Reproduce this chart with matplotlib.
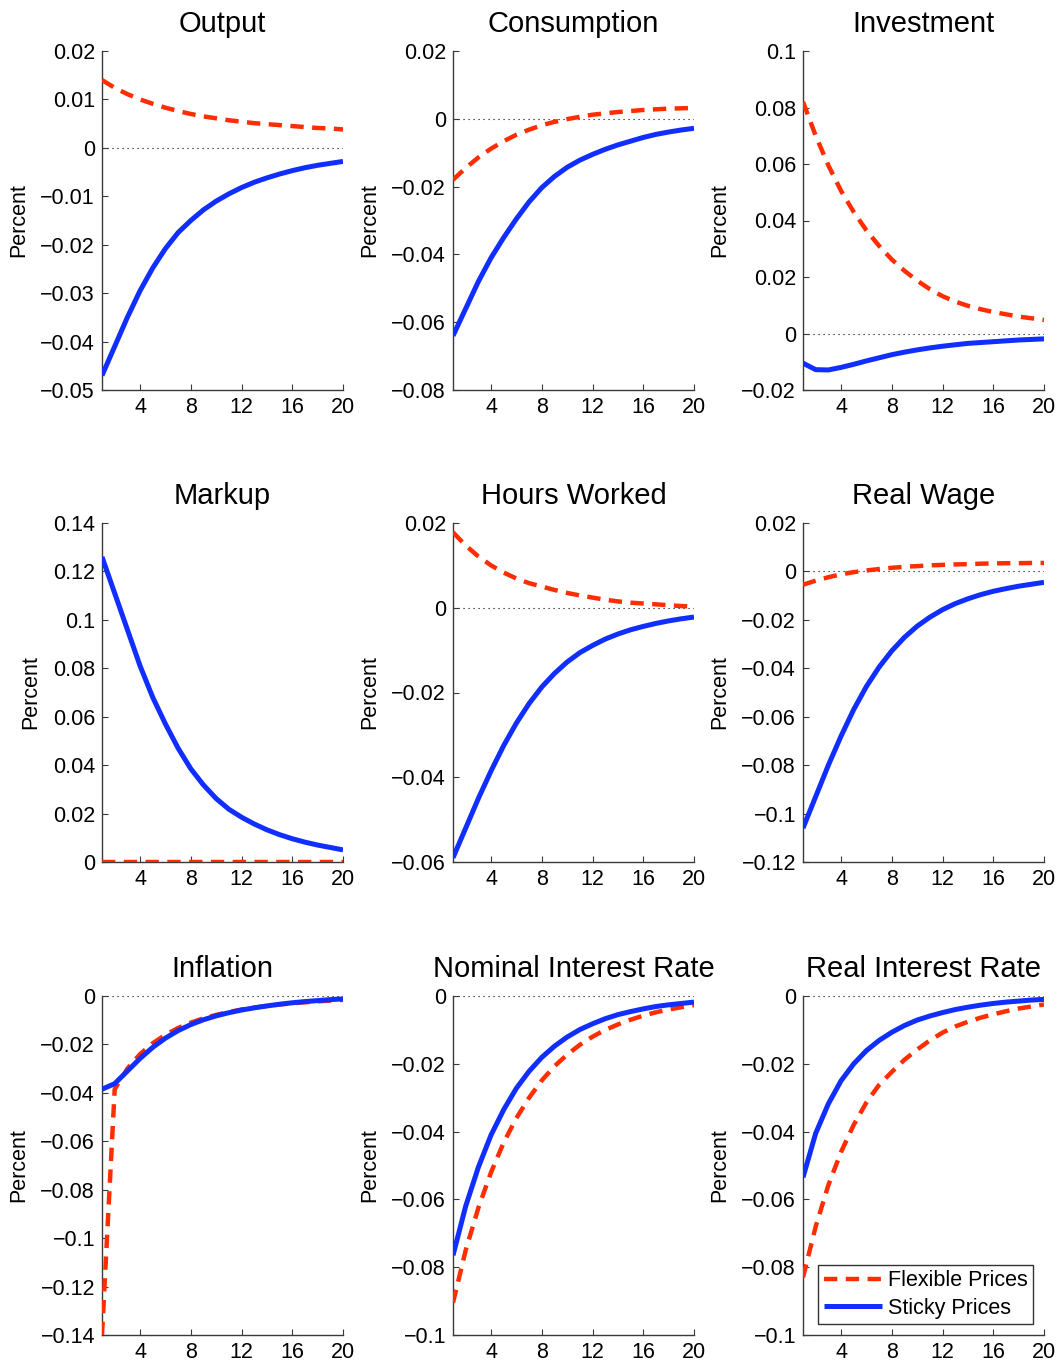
import matplotlib
matplotlib.use("Agg")
import matplotlib.pyplot as plt
import numpy as np

plt.rcParams['font.family'] = ['Liberation Sans', 'DejaVu Sans']

periods = list(range(1, 21))

titles = ["Output", "Consumption", "Investment",
          "Markup", "Hours Worked", "Real Wage",
          "Inflation", "Nominal Interest Rate", "Real Interest Rate"]

# Flexible prices (red dashed)
flex_output = [0.0140, 0.0124, 0.0111, 0.0100, 0.0091, 0.0083, 0.0076, 0.0070, 0.0065, 0.0061,
               0.0057, 0.0054, 0.0051, 0.0049, 0.0047, 0.0045, 0.0043, 0.0041, 0.0040, 0.0038]
flex_consumption = [-0.0180, -0.0145, -0.0114, -0.0088, -0.0066, -0.0047, -0.0032, -0.0019, -0.0009, -0.0001,
                    0.0006, 0.0012, 0.0016, 0.0020, 0.0023, 0.0026, 0.0028, 0.0030, 0.0031, 0.0032]
flex_investment = [0.0820, 0.0700, 0.0595, 0.0505, 0.0430, 0.0365, 0.0310, 0.0262, 0.0222, 0.0187,
                   0.0157, 0.0132, 0.0113, 0.0098, 0.0086, 0.0076, 0.0068, 0.0060, 0.0054, 0.0048]
flex_markup = [0.0] * 20
flex_hours = [0.0178, 0.0147, 0.0121, 0.0100, 0.0083, 0.0069, 0.0058, 0.0050, 0.0042, 0.0035,
              0.0029, 0.0024, 0.0019, 0.0015, 0.0012, 0.0010, 0.0008, 0.0006, 0.0004, 0.0003]
flex_wage = [-0.0055, -0.0038, -0.0024, -0.0012, -0.0003, 0.0004, 0.0010, 0.0015, 0.0019, 0.0022,
             0.0025, 0.0027, 0.0029, 0.0030, 0.0032, 0.0033, 0.0034, 0.0034, 0.0035, 0.0035]
flex_inflation = [-0.1400, -0.0385, -0.0300, -0.0240, -0.0195, -0.0160, -0.0132, -0.0110, -0.0092, -0.0078,
                  -0.0066, -0.0056, -0.0048, -0.0041, -0.0035, -0.0030, -0.0026, -0.0022, -0.0019, -0.0016]
flex_nominal = [-0.0905, -0.0750, -0.0625, -0.0520, -0.0432, -0.0360, -0.0300, -0.0249, -0.0207, -0.0173,
                -0.0144, -0.0120, -0.0100, -0.0084, -0.0070, -0.0058, -0.0048, -0.0040, -0.0033, -0.0027]
flex_real = [-0.0830, -0.0680, -0.0558, -0.0460, -0.0380, -0.0314, -0.0262, -0.0224, -0.0188, -0.0158,
             -0.0131, -0.0108, -0.0090, -0.0076, -0.0064, -0.0054, -0.0045, -0.0037, -0.0031, -0.0025]

# Sticky prices (blue solid)
sticky_output = [-0.0470, -0.0410, -0.0350, -0.0295, -0.0248, -0.0208, -0.0175, -0.0150, -0.0128, -0.0110,
                 -0.0095, -0.0082, -0.0071, -0.0062, -0.0054, -0.0047, -0.0041, -0.0036, -0.0032, -0.0028]
sticky_consumption = [-0.0640, -0.0560, -0.0480, -0.0410, -0.0350, -0.0295, -0.0245, -0.0203, -0.0170, -0.0143,
                      -0.0122, -0.0105, -0.0090, -0.0077, -0.0066, -0.0055, -0.0046, -0.0039, -0.0033, -0.0028]
sticky_investment = [-0.0105, -0.0128, -0.0129, -0.0120, -0.0109, -0.0097, -0.0086, -0.0075, -0.0066, -0.0058,
                     -0.0051, -0.0045, -0.0040, -0.0035, -0.0032, -0.0029, -0.0026, -0.0023, -0.0021, -0.0019]
sticky_markup = [0.1260, 0.1110, 0.0960, 0.0810, 0.0680, 0.0570, 0.0470, 0.0385, 0.0318, 0.0262,
                 0.0218, 0.0185, 0.0157, 0.0133, 0.0113, 0.0096, 0.0082, 0.0070, 0.0060, 0.0050]
sticky_hours = [-0.0590, -0.0520, -0.0450, -0.0385, -0.0325, -0.0272, -0.0226, -0.0187, -0.0155, -0.0128,
                -0.0106, -0.0089, -0.0074, -0.0062, -0.0052, -0.0044, -0.0037, -0.0031, -0.0026, -0.0022]
sticky_wage = [-0.1060, -0.0930, -0.0800, -0.0680, -0.0570, -0.0475, -0.0395, -0.0328, -0.0272, -0.0226,
               -0.0189, -0.0158, -0.0133, -0.0113, -0.0096, -0.0082, -0.0071, -0.0061, -0.0053, -0.0045]
sticky_inflation = [-0.0385, -0.0362, -0.0310, -0.0258, -0.0212, -0.0174, -0.0143, -0.0118, -0.0098, -0.0082,
                    -0.0069, -0.0058, -0.0049, -0.0041, -0.0034, -0.0028, -0.0023, -0.0019, -0.0015, -0.0012]
sticky_nominal = [-0.0765, -0.0620, -0.0505, -0.0410, -0.0335, -0.0272, -0.0222, -0.0181, -0.0148, -0.0121,
                  -0.0099, -0.0082, -0.0067, -0.0055, -0.0046, -0.0038, -0.0031, -0.0026, -0.0022, -0.0018]
sticky_real = [-0.0535, -0.0405, -0.0318, -0.0250, -0.0200, -0.0161, -0.0131, -0.0107, -0.0087, -0.0071,
               -0.0059, -0.0049, -0.0040, -0.0033, -0.0027, -0.0022, -0.0018, -0.0015, -0.0012, -0.0010]

flex_series = [flex_output, flex_consumption, flex_investment, flex_markup, flex_hours,
               flex_wage, flex_inflation, flex_nominal, flex_real]
sticky_series = [sticky_output, sticky_consumption, sticky_investment, sticky_markup, sticky_hours,
                 sticky_wage, sticky_inflation, sticky_nominal, sticky_real]

ylims = [(-0.05, 0.02), (-0.08, 0.02), (-0.02, 0.1),
         (0.0, 0.14), (-0.06, 0.02), (-0.12, 0.02),
         (-0.14, 0.0), (-0.1, 0.0), (-0.1, 0.0)]
ysteps = [0.01, 0.02, 0.02, 0.02, 0.02, 0.02, 0.02, 0.02, 0.02]
xticks = [4, 8, 12, 16, 20]

RED = '#ff2d00'
BLUE = '#0f2eff'
AXC = '#3a3a3a'

fig = plt.figure(figsize=(10.6, 13.65), dpi=100)
W, H = 1060.0, 1365.0
lefts = [102, 453, 803]
tops = [51, 523, 996]
aw, ah = 241, 339


def fmt(v):
    if abs(v) < 1e-12:
        return '0'
    s = ('%.2f' % v).rstrip('0').rstrip('.')
    s = s.replace('-', '\u2212')
    return s


for i in range(9):
    r, c = divmod(i, 3)
    ax = fig.add_axes([lefts[c] / W, 1 - (tops[r] + ah) / H, aw / W, ah / H])
    lo, hi = ylims[i]
    ax.plot([1, 20], [0, 0], linestyle=(0, (1, 3.5)), color='black', lw=0.8, zorder=1)
    ax.plot(periods, flex_series[i], color=RED, lw=3.2, linestyle=(0, (3.0, 1.9)),
            dash_capstyle='butt', label='Flexible Prices', zorder=3, clip_on=True)
    ax.plot(periods, sticky_series[i], color=BLUE, lw=3.6, solid_capstyle='butt',
            label='Sticky Prices', zorder=4)
    ax.set_xlim(1, 20)
    ax.set_ylim(lo, hi)
    yt = np.round(np.arange(lo, hi + ysteps[i] / 2, ysteps[i]), 4)
    ax.set_yticks(yt)
    ax.set_yticklabels([fmt(v) for v in yt])
    ax.set_xticks(xticks)
    ax.set_xticklabels([str(t) for t in xticks])
    for s in ['top', 'right']:
        ax.spines[s].set_visible(False)
    for s in ['left', 'bottom']:
        ax.spines[s].set_color(AXC)
        ax.spines[s].set_linewidth(1.0)
    ax.tick_params(direction='in', length=4, width=0.8, color=AXC, labelsize=15.5,
                   labelcolor='black', pad=5)
    ax.set_title(titles[i], fontsize=21, pad=14)
    ax.set_ylabel('Percent', fontsize=15.5, labelpad=8)
    ax.patch.set_visible(False)
    if i == 8:
        leg = ax.legend(loc='lower right', fontsize=15.5, frameon=True, fancybox=False,
                        edgecolor='black', handlelength=2.7, borderpad=0.25,
                        labelspacing=0.3, handletextpad=0.3, borderaxespad=0.5,
                        bbox_to_anchor=(1.0, 0.0))
        leg.get_frame().set_linewidth(1.0)

fig.savefig('out.png', dpi=100, facecolor='white')
